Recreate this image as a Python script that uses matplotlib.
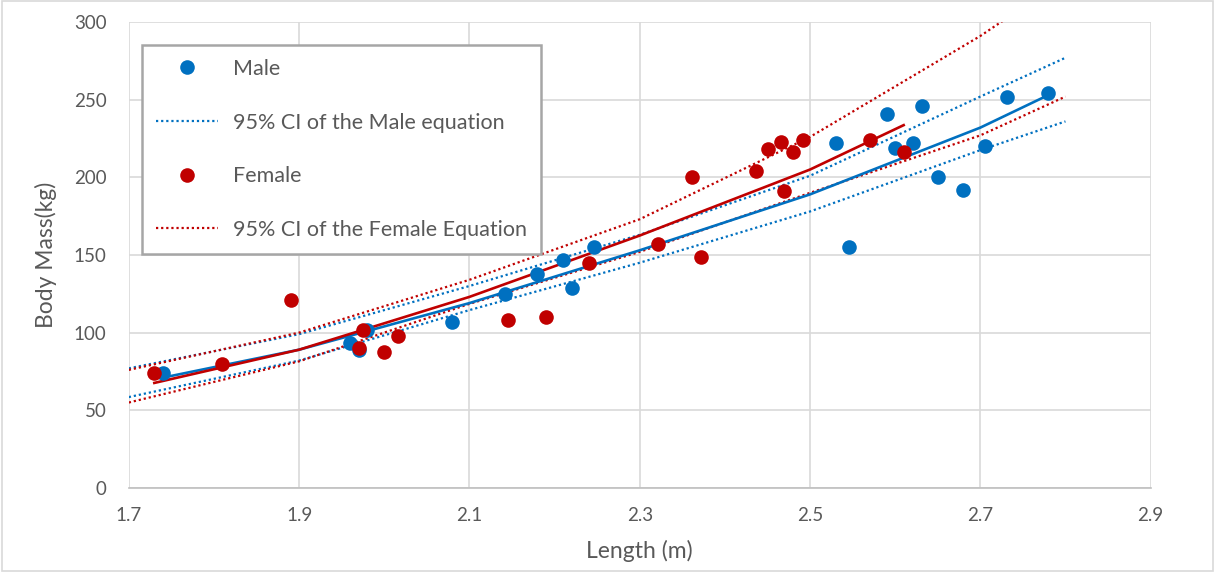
import matplotlib
matplotlib.use("Agg")
import matplotlib.pyplot as plt
from matplotlib.lines import Line2D
from matplotlib.patches import Rectangle

# ---- data ----
male_len = [1.74, 1.96, 1.97, 1.98, 2.08, 2.142, 2.179, 2.21, 2.221, 2.246,
            2.53, 2.546, 2.59, 2.60, 2.621, 2.631, 2.65, 2.68, 2.706, 2.731, 2.779]
male_mass = [74, 93, 89, 102, 107, 125, 138, 147, 129, 155,
             222, 155, 241, 219, 222, 246, 200, 192, 220, 252, 254]

female_len = [1.73, 1.81, 1.891, 1.97, 1.975, 2.0, 2.016, 2.145, 2.19, 2.24,
              2.321, 2.361, 2.372, 2.436, 2.451, 2.466, 2.47, 2.48, 2.492, 2.571, 2.61]
female_mass = [74, 80, 121, 90, 102, 87.5, 98, 108, 110, 145,
               157, 200, 149, 204, 218, 223, 191, 216, 224, 224, 216]

# fitted (power) trend lines
male_fit_x = [1.74, 1.9, 2.1, 2.3, 2.5, 2.7, 2.78]
male_fit_y = [71, 89, 119, 153, 189, 232, 253]
female_fit_x = [1.73, 1.9, 2.1, 2.3, 2.5, 2.61]
female_fit_y = [67.6, 89, 123, 162.5, 205, 233.6]

# 95% CI curves
ci_x = [1.7, 1.9, 2.1, 2.3, 2.5, 2.7, 2.8]
male_ci_up = [77, 99, 130, 163, 201, 252, 277]
male_ci_lo = [58.5, 82, 114.5, 145, 178, 217.5, 236]
female_ci_up = [76, 100, 134, 173, 226, 291, 328]
female_ci_lo = [55, 81.5, 118.5, 152, 190, 227, 252]

x_ticks = [1.7, 1.9, 2.1, 2.3, 2.5, 2.7, 2.9]
y_ticks = [0, 50, 100, 150, 200, 250, 300]

BLUE = "#0070C0"
RED = "#C00000"
GRID = "#D9D9D9"
TXT = "#595959"

plt.rcParams["font.family"] = ["Lato", "DejaVu Sans"]

fig = plt.figure(figsize=(12.15, 5.72), dpi=100)
ax = fig.add_axes([0.106, 0.147, 0.841, 0.8145])

dot = (0, (1, 1.3))
ax.plot(ci_x, male_ci_up, color=BLUE, lw=1.6, ls=dot, zorder=2)
ax.plot(ci_x, male_ci_lo, color=BLUE, lw=1.6, ls=dot, zorder=2)
ax.plot(ci_x, female_ci_up, color=RED, lw=1.6, ls=dot, zorder=2)
ax.plot(ci_x, female_ci_lo, color=RED, lw=1.6, ls=dot, zorder=2)

ax.plot(male_fit_x, male_fit_y, color=BLUE, lw=1.9, zorder=3)
ax.plot(female_fit_x, female_fit_y, color=RED, lw=1.9, zorder=3)

ax.plot(male_len, male_mass, "o", color=BLUE, ms=10.5, mec="none", zorder=4)
ax.plot(female_len, female_mass, "o", color=RED, ms=10.5, mec="none", zorder=5)

ax.set_xlim(1.7, 2.9)
ax.set_ylim(0, 300)
ax.set_xticks(x_ticks)
ax.set_yticks(y_ticks)
ax.set_xticklabels([f"{v:.1f}" for v in x_ticks])
ax.set_yticklabels([str(v) for v in y_ticks])
ax.grid(True, color=GRID, lw=1.2, zorder=0)
ax.set_axisbelow(True)
for s in ["top", "right", "left"]:
    ax.spines[s].set_visible(False)
ax.spines["bottom"].set_color("#BFBFBF")
ax.spines["bottom"].set_linewidth(1.2)
ax.tick_params(axis="both", length=0, labelsize=13.5, colors=TXT)
ax.tick_params(axis="y", pad=16)
ax.tick_params(axis="x", pad=14)

ax.set_xlabel("Length (m)", fontsize=16.5, color=TXT, labelpad=11)
ax.set_ylabel("Body Mass(kg)", fontsize=16.5, color=TXT, labelpad=12)

handles = [
    Line2D([], [], ls="none", marker="o", color=BLUE, ms=10.5, mec="none"),
    Line2D([], [], color=BLUE, lw=1.6, ls=dot),
    Line2D([], [], ls="none", marker="o", color=RED, ms=10.5, mec="none"),
    Line2D([], [], color=RED, lw=1.6, ls=dot),
]
labels = ["Male", "95% CI of the Male equation", "Female", "95% CI of the Female Equation"]
leg = ax.legend(handles, labels, loc="upper left", bbox_to_anchor=(0.0127, 0.9506),
                borderaxespad=0, fontsize=15.5, labelspacing=1.56, handlelength=2.9,
                handletextpad=0.7, borderpad=0.65, fancybox=False, framealpha=1,
                edgecolor="#A6A6A6", labelcolor=TXT)
leg.get_frame().set_linewidth(1.8)

fig.patches.append(Rectangle((0.002, 0.002), 0.996, 0.996, transform=fig.transFigure,
                             fill=False, edgecolor=GRID, lw=1.2))

fig.savefig("out.png", dpi=100)
